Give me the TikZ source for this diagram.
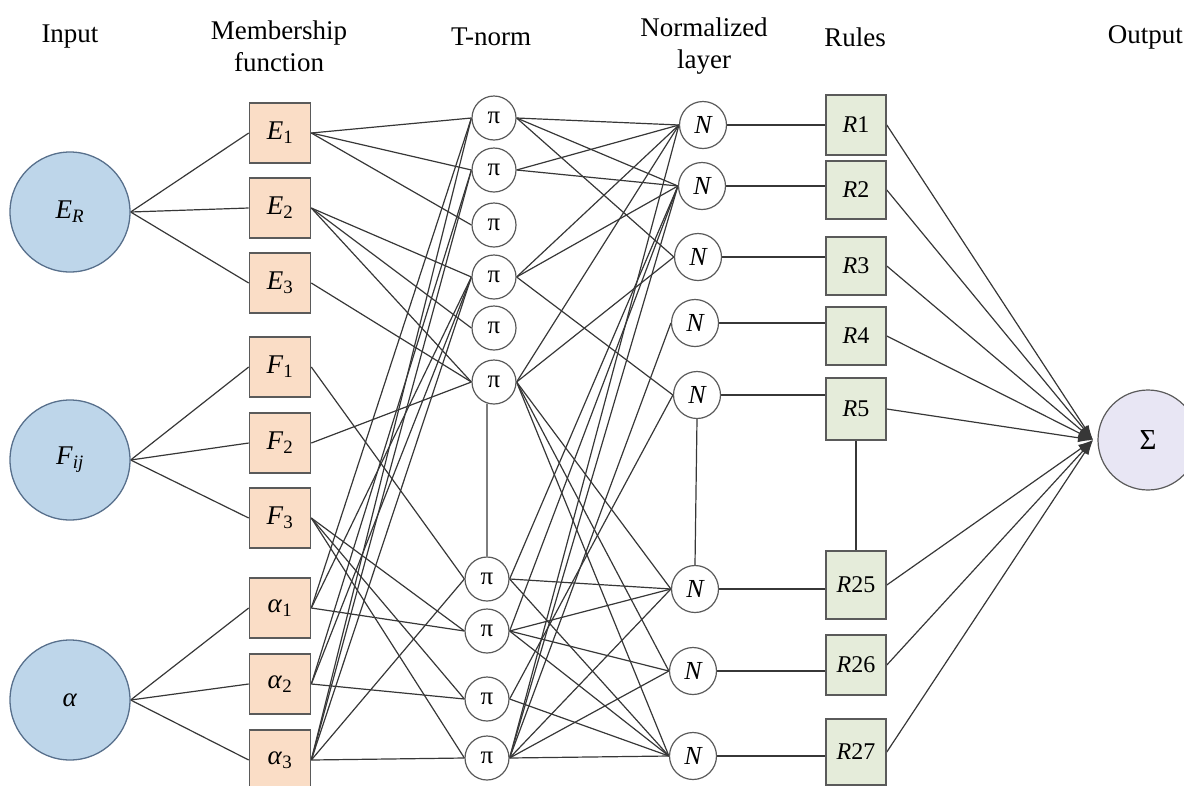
\documentclass[tikz,border=0pt]{standalone}
\usepackage{fontspec}
\setmainfont{Liberation Serif}
\usetikzlibrary{arrows.meta,backgrounds}

\definecolor{inFill}{RGB}{190,214,234}
\definecolor{inStroke}{RGB}{88,112,140}
\definecolor{mfFill}{RGB}{250,221,198}
\definecolor{ruleFill}{RGB}{229,236,218}
\definecolor{sigFill}{RGB}{232,230,244}
\definecolor{edgeCol}{RGB}{55,55,55}
\definecolor{boxLine}{RGB}{90,90,90}

\tikzset{
  hdr/.style={font=\fontsize{27}{32}\selectfont, align=center, inner sep=0pt},
  inputnode/.style={circle, draw=inStroke, fill=inFill, line width=1.3pt,
    minimum size=120pt, inner sep=0pt, font=\fontsize{27}{28}\selectfont},
  mfbox/.style={rectangle, draw=boxLine, fill=mfFill, line width=1.6pt,
    minimum width=61pt, minimum height=60pt, inner sep=0pt,
    font=\fontsize{27}{28}\selectfont},
  prodnode/.style={circle, draw=boxLine, fill=white, line width=1.2pt,
    minimum size=44pt, inner sep=0pt, font=\fontsize{25}{26}\selectfont},
  normnode/.style={circle, draw=boxLine, fill=white, line width=1.2pt,
    minimum size=47pt, inner sep=0pt, font=\fontsize{26}{28}\selectfont\itshape},
  rulebox/.style={rectangle, draw=boxLine, fill=ruleFill, line width=1.6pt,
    minimum width=60pt, inner sep=0pt, font=\fontsize{24}{26}\selectfont},
  sumnode/.style={circle, draw=boxLine, fill=sigFill, line width=1.2pt,
    minimum size=100pt, inner sep=0pt, font=\fontsize{29}{30}\selectfont},
  link/.style={draw=edgeCol, line width=1.2pt},
  arrowlink/.style={link, -{Latex[length=15pt,width=9pt]}}
}

\begin{document}
\begin{tikzpicture}[x=1pt,y=-1pt]
\useasboundingbox (0,0) rectangle (1184,785);

% column headings
\node[hdr] (hIn)   at (70,37)  {Input};
\node[hdr] (hMf)   at (279,46) {Membership\\function};
\node[hdr] (hTn)   at (491,37) {T-norm};
\node[hdr] (hNl)   at (704,46) {Normalized\\layer};
\node[hdr] (hRu)   at (855,37) {Rules};
\node[hdr, anchor=east] (hOut) at (1183,37) {Output};

% inputs
\node[inputnode] (ER)  at (70,212) {\textit{E}\textsubscript{\textit{R}}};
\node[inputnode] (Fij) at (70,460) {\textit{F}\textsubscript{\textit{ij}}};
\node[inputnode] (Al)  at (70,700) {\textit{α}};

% membership functions
\node[mfbox] (E1) at (280,133) {\textit{E}\textsubscript{1}};
\node[mfbox] (E2) at (280,208) {\textit{E}\textsubscript{2}};
\node[mfbox] (E3) at (280,283) {\textit{E}\textsubscript{3}};
\node[mfbox] (F1) at (280,367) {\textit{F}\textsubscript{1}};
\node[mfbox] (F2) at (280,443) {\textit{F}\textsubscript{2}};
\node[mfbox] (F3) at (280,518) {\textit{F}\textsubscript{3}};
\node[mfbox] (A1) at (280,608) {\textit{α}\textsubscript{1}};
\node[mfbox] (A2) at (280,684) {\textit{α}\textsubscript{2}};
\node[mfbox] (A3) at (280,760) {\textit{α}\textsubscript{3}};

% T-norm nodes
\node[prodnode] (p1)  at (494,118) {π};
\node[prodnode] (p2)  at (494,170) {π};
\node[prodnode] (p3)  at (494,225) {π};
\node[prodnode] (p4)  at (494,277) {π};
\node[prodnode] (p5)  at (494,328) {π};
\node[prodnode] (p6)  at (494,382) {π};
\node[prodnode] (p7)  at (487,579) {π};
\node[prodnode] (p8)  at (487,631) {π};
\node[prodnode] (p9)  at (487,699) {π};
\node[prodnode] (p10) at (487,758) {π};

% normalisation nodes
\node[normnode] (n1) at (703,125) {N};
\node[normnode] (n2) at (702,186) {N};
\node[normnode] (n3) at (698,257) {N};
\node[normnode] (n4) at (695,323) {N};
\node[normnode] (n5) at (697,395) {N};
\node[normnode] (n6) at (695,589) {N};
\node[normnode] (n7) at (693,671) {N};
\node[normnode] (n8) at (693,756) {N};

% rules
\node[rulebox, minimum height=60pt] (R1)  at (856,125) {\textit{R}1};
\node[rulebox, minimum height=58pt] (R2)  at (856,190) {\textit{R}2};
\node[rulebox, minimum height=58pt] (R3)  at (856,266) {\textit{R}3};
\node[rulebox, minimum height=58pt] (R4)  at (856,336) {\textit{R}4};
\node[rulebox, minimum height=62pt] (R5)  at (856,409) {\textit{R}5};
\node[rulebox, minimum height=68pt] (R25) at (856,585) {\textit{R}25};
\node[rulebox, minimum height=60pt] (R26) at (856,665) {\textit{R}26};
\node[rulebox, minimum height=66pt] (R27) at (856,752) {\textit{R}27};

% output
\node[sumnode] (sum) at (1148,440) {Σ};
\coordinate (hub) at (1093,440);

\begin{scope}[on background layer]
  % inputs to membership functions
  \foreach \a/\b in {ER/E1, ER/E2, ER/E3, Fij/F1, Fij/F2, Fij/F3, Al/A1, Al/A2, Al/A3}
    \draw[link] (\a.east) -- (\b.west);
  % membership functions to T-norm
  \foreach \a/\b in {E1/p1, E1/p2, E1/p3, E2/p4, E2/p5, E2/p6, E3/p6,
                     F1/p7, F2/p6, F3/p8, F3/p9, F3/p10,
                     A1/p1, A1/p4, A1/p8, A2/p2, A2/p4, A2/p9,
                     A3/p1, A3/p2, A3/p4, A3/p7, A3/p10}
    \draw[link] (\a.east) -- (\b.west);
  % T-norm to normalised layer
  \foreach \a/\b in {p1/n1, p1/n2, p1/n3, p2/n1, p2/n2, p4/n1, p4/n2, p4/n5,
                     p6/n1, p6/n3, p6/n6, p6/n7, p6/n8,
                     p7/n2, p7/n6, p7/n8, p8/n2, p8/n6, p8/n7, p8/n8,
                     p9/n5, p9/n8, p10/n1, p10/n2, p10/n4, p10/n6, p10/n7, p10/n8}
    \draw[link] (\a.east) -- (\b.west);
  % elided middle of each column
  \draw[link] (p6.-108) -- (p7.north);
  \draw[link] (n5.south) -- (n6.north);
  \draw[link] (R5.south) -- (R25.north);
  % normalised layer to rules
  \foreach \a/\b in {n1/R1, n2/R2, n3/R3, n4/R4, n5/R5, n6/R25, n7/R26, n8/R27}
    \draw[link] (\a.east) -- (\a.east -| \b.west);
  % rules to output
  \foreach \a in {R1, R2, R3, R4, R5, R25, R26, R27}
    \draw[arrowlink] (\a.east) -- (hub);
\end{scope}
\end{tikzpicture}
\end{document}
